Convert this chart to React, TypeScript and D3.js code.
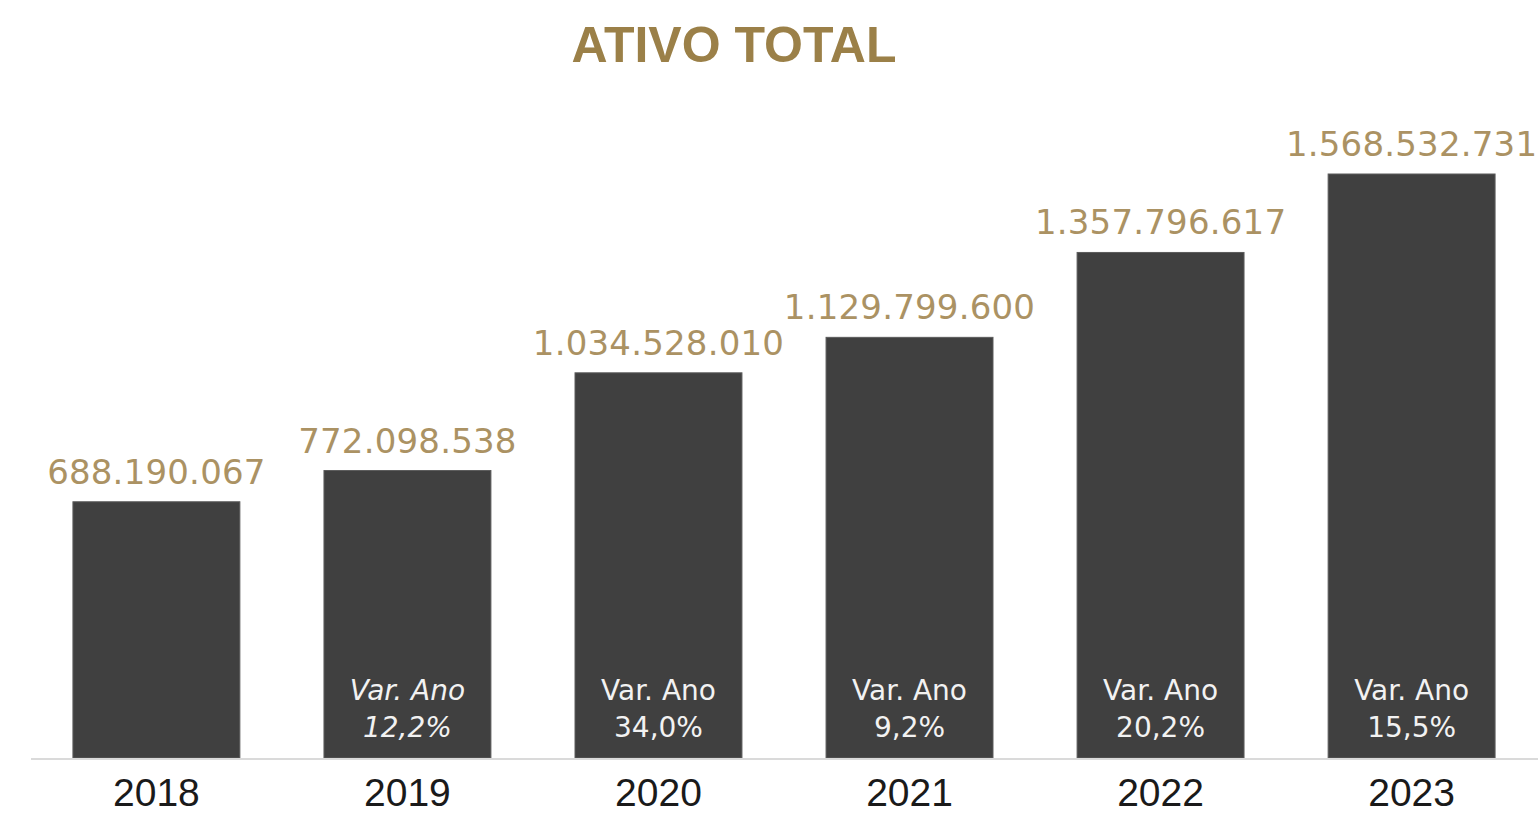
import * as d3 from "d3";

// data
const years = ["2018", "2019", "2020", "2021", "2022", "2023"];
const totals = [688190067, 772098538, 1034528010, 1129799600, 1357796617, 1568532731];
const variations = [null, "12,2%", "34,0%", "9,2%", "20,2%", "15,5%"];
const italicYears = ["2019"];

const W = 1538;
const H = 813;
const baseY = 758;

const App = () => {
  const x = d3.scaleBand<string>()
    .domain(years)
    .range([31, 1537])
    .paddingInner(0.335)
    .paddingOuter(0.167);

  const y = d3.scaleLinear()
    .domain([0, d3.max(totals) as number])
    .range([baseY, 174]);

  const fmt = (v: number) => d3.format(",")(v).replace(/,/g, ".");

  return (
    <svg width={W} height={H} style={{ position: "absolute", left: 0, top: 0, background: "#fff" }}>
      <text x={734} y={62} textAnchor="middle" fill="#9b8048"
        style={{ font: "bold 50px 'Liberation Sans'" }}>ATIVO TOTAL</text>

      {/* bars */}
      {years.map((yr, i) => (
        <rect key={yr} x={x(yr)} y={y(totals[i])} width={x.bandwidth()}
          height={y(0) - y(totals[i])} fill="#404040" stroke="#5c5c5c" strokeWidth={1} />
      ))}

      {/* axis line */}
      <line x1={31} x2={W} y1={baseY + 1} y2={baseY + 1} stroke="#dadada" strokeWidth={2} />

      {/* value labels */}
      {years.map((yr, i) => (
        <text key={"v" + yr} x={(x(yr) as number) + x.bandwidth() / 2} y={y(totals[i]) - 18}
          textAnchor="middle" fill="#ab9263"
          style={{ font: "34px 'DejaVu Sans'", letterSpacing: "0.2px" }}>{fmt(totals[i])}</text>
      ))}

      {/* var. ano labels */}
      {years.map((yr, i) => {
        const v = variations[i];
        if (!v) return null;
        const cx = (x(yr) as number) + x.bandwidth() / 2;
        const st = italicYears.includes(yr) ? "italic " : "";
        return (
          <g key={"a" + yr} fill="#f2f2f2" style={{ font: `${st}28px 'DejaVu Sans'` }}>
            <text x={cx} y={700} textAnchor="middle">Var. Ano</text>
            <text x={cx} y={737} textAnchor="middle">{v}</text>
          </g>
        );
      })}

      {/* year labels */}
      {years.map((yr) => (
        <text key={"y" + yr} x={(x(yr) as number) + x.bandwidth() / 2} y={806}
          textAnchor="middle" fill="#1a1a1a"
          style={{ font: "39px 'Liberation Sans'" }}>{yr}</text>
      ))}
    </svg>
  );
};

export default App;
